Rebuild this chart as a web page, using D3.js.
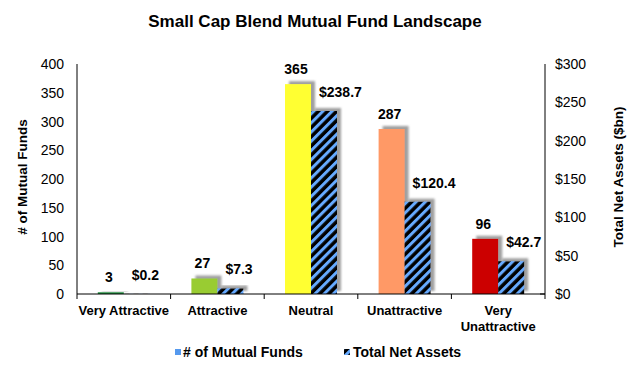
<!DOCTYPE html>
<html><head><meta charset="utf-8">
<script src="https://cdn.jsdelivr.net/npm/d3@7"></script>
<style>body{margin:0;background:#fff}svg{font-family:"Liberation Sans",Arial,sans-serif;font-weight:bold}</style>
</head><body>
<svg id="c" width="630" height="369"></svg>
<script>
const categories = ["Very Attractive","Attractive","Neutral","Unattractive","Very Unattractive"];
const fundCounts = [3, 27, 365, 287, 96];
const netAssets = [0.2, 7.3, 238.7, 120.4, 42.7];
const fundColors = ["#1E8C3C","#99CC33","#FFFF33","#FF9966","#CC0000"];
const leftTicks = [0,50,100,150,200,250,300,350,400];
const rightTicks = [0,50,100,150,200,250,300];
const seriesNames = ["# of Mutual Funds","Total Net Assets"];

const svg = d3.select("#c");
const L = 77, R = 545, T = 64, B = 294;

const defs = svg.append("defs");
const pat = defs.append("pattern").attr("id","hatch").attr("patternUnits","userSpaceOnUse")
  .attr("width",6.5).attr("height",6.5).attr("patternTransform","rotate(45)");
pat.append("rect").attr("width",6.5).attr("height",6.5).attr("fill","#000");
pat.append("rect").attr("width",3).attr("height",6.5).attr("fill","#66AAFF");
const f = defs.append("filter").attr("id","sh").attr("x","-50%").attr("y","-50%").attr("width","200%").attr("height","200%");
f.append("feDropShadow").attr("dx",4).attr("dy",-3).attr("stdDeviation",1.2).attr("flood-color","#777").attr("flood-opacity",0.7);

const x0 = d3.scaleBand().domain(categories).range([L,R]).paddingInner(0).paddingOuter(0);
const x1 = d3.scaleBand().domain(seriesNames).range([0,x0.bandwidth()]).paddingInner(0).paddingOuter(0.8);
const yL = d3.scaleLinear().domain([0,400]).range([B,T]);
const yR = d3.scaleLinear().domain([0,300]).range([B,T]);

// title
svg.append("text").attr("x",315).attr("y",27).attr("text-anchor","middle").attr("font-size",17).text("Small Cap Blend Mutual Fund Landscape");

// bars
const g = svg.append("g");
categories.forEach((c,i)=>{
  const xa = x0(c)+x1(seriesNames[0]);
  g.append("rect").attr("x",xa).attr("y",yL(fundCounts[i])).attr("width",x1.bandwidth()).attr("height",B-yL(fundCounts[i]))
    .attr("fill",fundColors[i]).attr("filter","url(#sh)");
  const xb = x0(c)+x1(seriesNames[1]);
  g.append("rect").attr("x",xb).attr("y",yR(netAssets[i])).attr("width",x1.bandwidth()).attr("height",B-yR(netAssets[i]))
    .attr("fill","url(#hatch)").attr("filter","url(#sh)");
  g.append("text").attr("x",xa+x1.bandwidth()/2-2).attr("y",yL(fundCounts[i])-10).attr("text-anchor","middle")
    .attr("font-size",14).text(fundCounts[i]);
  g.append("text").attr("x",xb+8).attr("y",yR(netAssets[i])-14).attr("text-anchor","start")
    .attr("font-size",14).text("$"+netAssets[i].toFixed(1));
});

// axes
const ax = svg.append("g").attr("font-size",14);
ax.append("line").attr("x1",L).attr("x2",L).attr("y1",T).attr("y2",B).attr("stroke","#000");
ax.append("line").attr("x1",R).attr("x2",R).attr("y1",T).attr("y2",B).attr("stroke","#000");
ax.append("line").attr("x1",L).attr("x2",R).attr("y1",B).attr("y2",B).attr("stroke","#000");
ax.append("line").attr("x1",R).attr("x2",R-5).attr("y1",B).attr("y2",B).attr("stroke","#000");
leftTicks.forEach(t=>{
  ax.append("text").attr("x",64).attr("y",yL(t)+5).attr("text-anchor","end").attr("font-weight","normal").text(t);
});
rightTicks.forEach(t=>{
  ax.append("text").attr("x",555).attr("y",yR(t)+5).attr("text-anchor","start").attr("font-weight","normal").text("$"+t);
});
const bounds = categories.map(c=>x0(c)).concat([R]);
bounds.forEach(b=>{
  ax.append("line").attr("x1",b).attr("x2",b).attr("y1",B).attr("y2",B+5).attr("stroke","#000");
});
categories.forEach(c=>{
  const cx = x0(c)+x0.bandwidth()/2;
  if(c==="Very Unattractive"){
    ax.append("text").attr("x",cx).attr("y",315).attr("text-anchor","middle").attr("font-size",13).text("Very");
    ax.append("text").attr("x",cx).attr("y",331).attr("text-anchor","middle").attr("font-size",13).text("Unattractive");
  } else {
    ax.append("text").attr("x",cx).attr("y",315).attr("text-anchor","middle").attr("font-size",13).text(c);
  }
});
svg.append("text").attr("transform","translate(27,177) rotate(-90)").attr("text-anchor","middle").attr("font-size",13.5).text("# of Mutual Funds");
svg.append("text").attr("transform","translate(623,177) rotate(-90)").attr("text-anchor","middle").attr("font-size",13.5).text("Total Net Assets ($bn)");

// legend
const lg = svg.append("g").attr("font-size",14);
lg.append("rect").attr("x",175).attr("y",349).attr("width",6).attr("height",6).attr("fill","#5599EE");
lg.append("text").attr("x",183).attr("y",357).text(seriesNames[0]);
lg.append("rect").attr("x",344).attr("y",349).attr("width",6).attr("height",6).attr("fill","url(#hatch)");
lg.append("text").attr("x",353).attr("y",357).text(seriesNames[1]);
</script>
</body></html>
